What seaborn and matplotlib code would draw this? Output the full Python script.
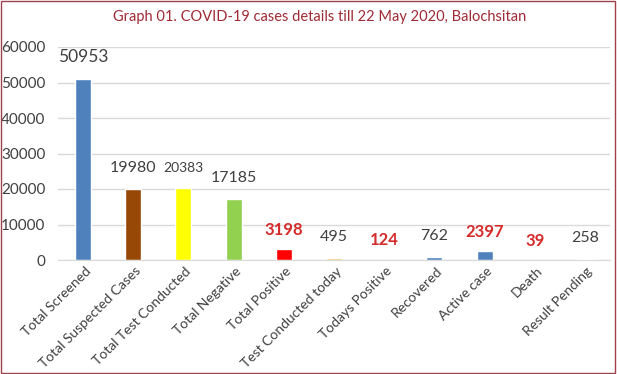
import matplotlib.pyplot as plt
import matplotlib.transforms as mtransforms
import seaborn as sns
import pandas as pd
from matplotlib.patches import Rectangle

categories = ['Total Screened', 'Total Suspected Cases', 'Total Test Conducted', 'Total Negative',
              'Total Positive', 'Test Conducted today', 'Todays Positive', 'Recovered',
              'Active case', 'Death', 'Result Pending']
values = [50953, 19980, 20383, 17185, 3198, 495, 124, 762, 2397, 39, 258]
bar_colors = ['#4F81BD', '#974706', '#FFFF00', '#92D050', '#FF0000', '#F2C45A', '#E03030',
              '#4F81BD', '#4F81BD', '#E03030', '#B8C4D6']
label_red = [False, False, False, False, True, False, True, False, True, True, False]
label_size = [12.5, 11.5, 10, 11.5, 12, 11.5, 12, 11.5, 12, 12, 11.5]

df = pd.DataFrame({'category': categories, 'value': values})

sns.set_style('white')
plt.rcParams['font.family'] = ['Lato', 'DejaVu Sans']

fig = plt.figure(figsize=(6.17, 3.74), dpi=100)
ax = fig.add_axes([58 / 617, 1 - 260 / 374, 552 / 617, 213 / 374])

sns.barplot(data=df, x='category', y='value', hue='category', palette=bar_colors,
            width=0.32, legend=False, ax=ax, saturation=1)

ax.set_ylim(0, 60000)
ax.set_yticks(range(0, 60001, 10000))
ax.yaxis.grid(True, color='#D9D9D9', linewidth=1)
ax.set_axisbelow(True)
for s in ['top', 'right', 'left']:
    ax.spines[s].set_visible(False)
ax.spines['bottom'].set_color('#D9D9D9')
ax.tick_params(axis='both', length=0, colors='#404040')
ax.tick_params(axis='y', labelsize=11, pad=9)
ax.set_xlabel('')
ax.set_ylabel('')
ax.set_xticks(range(len(categories)))
ax.set_xticklabels(categories, rotation=45, ha='right', rotation_mode='anchor', fontsize=10, color='#404040')
for lbl in ax.get_xticklabels():
    lbl.set_transform(lbl.get_transform() + mtransforms.ScaledTranslation(1 / 72, 0, fig.dpi_scale_trans))

for i, v in enumerate(values):
    if label_red[i]:
        ax.annotate(str(v), (i, v), xytext=(0, 8), textcoords='offset points', ha='center', va='bottom',
                    fontsize=label_size[i], color='#D42B2B', fontweight='bold')
    else:
        ax.annotate(str(v), (i, v), xytext=(0, 10), textcoords='offset points', ha='center', va='bottom',
                    fontsize=label_size[i], color='#404040')

fig.text(0.518, 0.955, 'Graph 01. COVID-19 cases details till 22 May 2020, Balochsitan',
         ha='center', va='center', fontsize=10.5, color='#9E2B35')

fig.patches.append(Rectangle((0.002, 0.002), 0.994, 0.994, transform=fig.transFigure,
                             fill=False, edgecolor='#A0404A', linewidth=1))

fig.savefig('out.png', dpi=100)
